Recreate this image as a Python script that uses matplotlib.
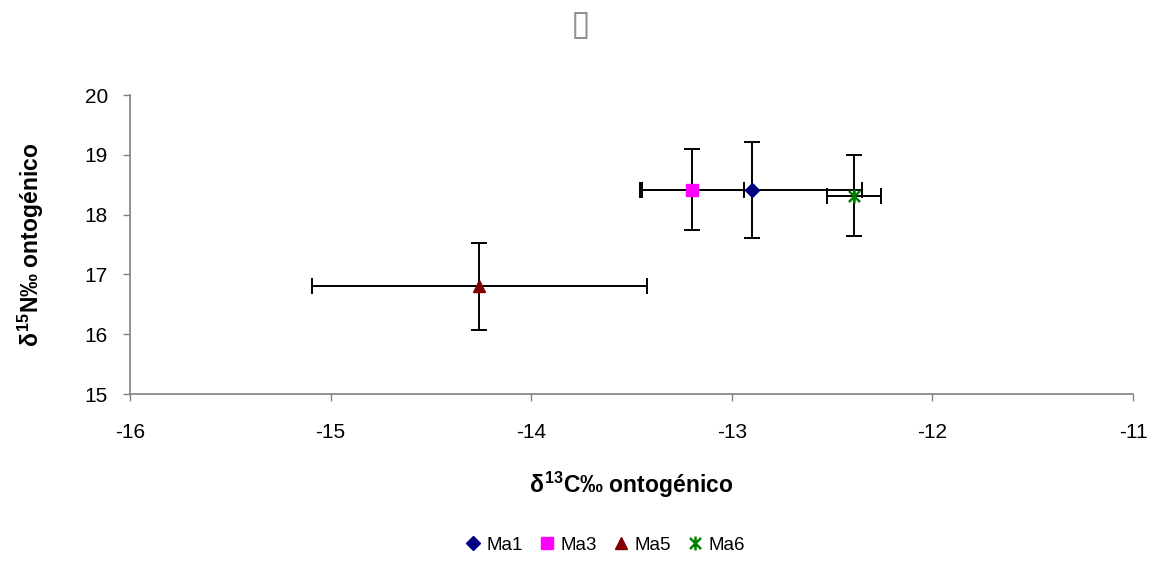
import numpy as np
import matplotlib
matplotlib.use("Agg")
from matplotlib import pyplot as plt
from matplotlib.path import Path

names = ["Ma1", "Ma3", "Ma5", "Ma6"]
d13c = [-12.90, -13.20, -14.26, -12.39]
d15n = [18.41, 18.42, 16.80, 18.32]
d13c_err = [0.55, 0.26, 0.835, 0.135]
d15n_err = [0.80, 0.68, 0.725, 0.675]

colors = ["#000080", "#ff00ff", "#800000", "#008000"]

# excel style asterisk: vertical line plus an X
star = Path([(0, -1), (0, 1), (-0.8, -0.8), (0.8, 0.8), (-0.8, 0.8), (0.8, -0.8)],
            [Path.MOVETO, Path.LINETO, Path.MOVETO, Path.LINETO, Path.MOVETO, Path.LINETO])
markers = ["D", "s", "^", star]
msizes = [7, 8, 8.5, 10]

plt.rcParams["font.family"] = ["Liberation Sans", "DejaVu Sans"]
plt.rcParams["axes.unicode_minus"] = False
plt.rcParams["mathtext.fontset"] = "custom"
plt.rcParams["mathtext.rm"] = "Liberation Sans:bold"
plt.rcParams["mathtext.it"] = "Liberation Sans:bold"
plt.rcParams["mathtext.bf"] = "Liberation Sans:bold"

fig = plt.figure(figsize=(11.57, 5.86), dpi=100)
ax = fig.add_axes([0.1124, 0.3276, 0.8669, 0.5102])

for n, x, y, xe, ye, c, m, ms in zip(names, d13c, d15n, d13c_err, d15n_err, colors, markers, msizes):
    ax.errorbar(x, y, xerr=xe, yerr=ye, fmt="none", ecolor="black", elinewidth=1.4,
                capsize=5.5, capthick=1.4, zorder=2)
    if m is star:
        ax.plot(x, y, linestyle="none", marker=m, markersize=ms, markeredgecolor=c,
                markeredgewidth=1.8, color=c, label=n, zorder=3)
    else:
        ax.plot(x, y, linestyle="none", marker=m, markersize=ms, color=c,
                markeredgecolor=c, label=n, zorder=3)

ax.set_xlim(-16, -11)
ax.set_ylim(15, 20)
ax.set_xticks(np.arange(-16, -10, 1))
ax.set_yticks(np.arange(15, 21, 1))
for s in ["top", "right"]:
    ax.spines[s].set_visible(False)
for s in ["left", "bottom"]:
    ax.spines[s].set_color("#808080")
    ax.spines[s].set_linewidth(1.2)
ax.tick_params(axis="both", direction="out", length=5, width=1, color="#808080",
               labelsize=15, labelcolor="black")
ax.tick_params(axis="x", pad=16)
ax.tick_params(axis="y", pad=11)

ax.set_xlabel(r"$\delta^{13}$C‰ ontogénico", fontsize=16.5, fontweight="bold", labelpad=20)
ax.set_ylabel(r"$\delta^{15}$N‰ ontogénico", fontsize=16.5, fontweight="bold", labelpad=28)

fig.text(0.5015, 0.957, "\u25af", family="DejaVu Sans", color="#909090",
         fontsize=26, ha="center", va="center")

fig.legend(loc="center", bbox_to_anchor=(0.523, 0.07), ncol=4, frameon=False,
           fontsize=13.5, handlelength=0.8, handletextpad=0.3, columnspacing=0.9)

fig.savefig("out.png", dpi=100)
